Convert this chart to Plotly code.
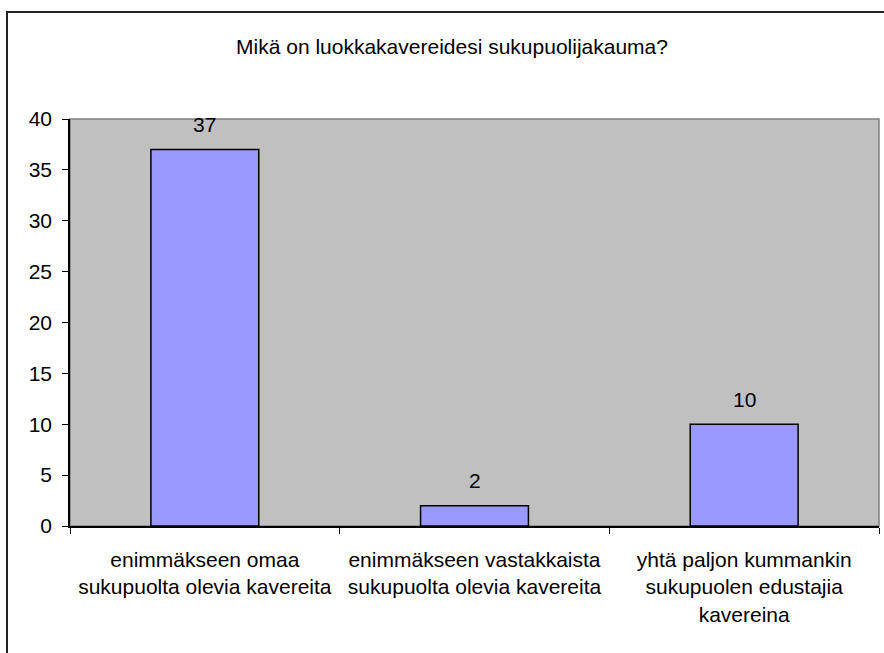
"""
Bar chart: Mikä on luokkakavereidesi sukupuolijakauma?
"""
import plotly.graph_objects as go

categories = [
    "enimmäkseen omaa<br>sukupuolta olevia kavereita",
    "enimmäkseen vastakkaista<br>sukupuolta olevia kavereita",
    "yhtä paljon kummankin<br>sukupuolen edustajia<br>kavereina",
]
counts = [37, 2, 10]
y_ticks = [0, 5, 10, 15, 20, 25, 30, 35, 40]

title_text = "Mikä on luokkakavereidesi sukupuolijakauma?"
font_family = "Liberation Sans, Arial, sans-serif"
fsize = 21

W, H = 884, 653
# plot area in pixels
L, R, T, B = 70, 879, 119, 526

fig = go.Figure()
fig.add_trace(go.Bar(
    x=categories,
    y=counts,
    width=0.4,
    marker=dict(color="#9999FF", line=dict(color="black", width=1.5)),
    hoverinfo="x+y",
))

# data labels above the bars
for cat, val in zip(categories, counts):
    fig.add_annotation(
        x=cat, y=val, text=str(val), showarrow=False,
        yanchor="middle", yshift=25,
        font=dict(size=fsize, color="black", family=font_family),
    )

pw, ph = R - L, B - T
# chart-area border (extends past the right and bottom of the picture)
fig.add_shape(
    type="rect", xref="paper", yref="paper",
    x0=(7 - L) / pw, x1=(W + 10 - L) / pw,
    y0=(B - (H + 10)) / ph, y1=(B - 12) / ph,
    line=dict(color="#222222", width=2), layer="below",
)
# plot-area frame in gray
fig.add_shape(
    type="rect", xref="paper", yref="paper",
    x0=0, x1=1, y0=0, y1=1,
    line=dict(color="#808080", width=1.5), layer="below",
)

fig.update_layout(
    width=W, height=H,
    margin=dict(l=L, r=W - R, t=T, b=H - B),
    paper_bgcolor="white",
    plot_bgcolor="#C0C0C0",
    font=dict(family=font_family, size=fsize, color="black"),
    showlegend=False,
    bargap=0.6,
    title=dict(
        text=title_text, xref="container", yref="container",
        x=452 / W, y=1 - 47 / H, xanchor="center", yanchor="middle",
        font=dict(size=fsize, color="black", family=font_family),
    ),
)
fig.update_xaxes(
    showline=True, linecolor="black", linewidth=1.5,
    ticks="outside", tickson="boundaries", ticklen=6, tickcolor="black",
    showgrid=False, tickfont=dict(size=fsize), ticklabelstandoff=14,
)
fig.update_yaxes(
    range=[0, 40], tickvals=y_ticks,
    showline=True, linecolor="black", linewidth=1.5,
    ticks="outside", ticklen=6, tickcolor="black",
    showgrid=False, zeroline=False, tickfont=dict(size=fsize),
    ticklabelstandoff=6,
)

fig.write_html(
    "out.html",
    config={"displayModeBar": False},
    post_script="document.body.style.margin='0';",
)
